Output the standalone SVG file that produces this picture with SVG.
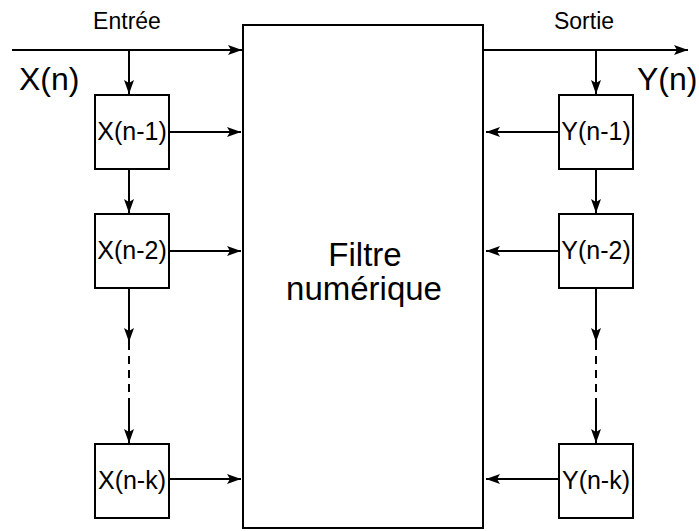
<svg xmlns="http://www.w3.org/2000/svg" width="699" height="531" viewBox="0 0 699 531">
<style>
  .box { fill: #fff; stroke: #000; stroke-width: 2; }
  .ln { fill: none; stroke: #000; stroke-width: 2; }
  .dash { fill: none; stroke: #000; stroke-width: 2; stroke-dasharray: 8 6; }
  text { font-family: "Liberation Sans", Arial, Helvetica, sans-serif; fill: #000; }
  .lbl { font-size: 25px; text-anchor: middle; }
  .big { font-size: 32px; }
  .io { font-size: 23px; text-anchor: middle; }
  .mid { font-size: 33px; text-anchor: middle; }
</style>
<defs>
  <marker id="arr" markerUnits="userSpaceOnUse" markerWidth="15" markerHeight="11" refX="14" refY="5.5" orient="auto">
    <path d="M0,0.5 L14,5.5 L0,10.5 L3,5.5 z" fill="#000"/>
  </marker>
</defs>

<g id="filtre">
  <rect class="box" x="243" y="25" width="240" height="503"/>
  <text class="mid" x="365" y="266">Filtre</text>
  <text class="mid" x="364" y="300">numérique</text>
</g>

<g id="labels">
  <text class="io" x="127" y="29">Entrée</text>
  <text class="io" x="584" y="29">Sortie</text>
  <text class="big" x="19" y="90">X(n)</text>
  <text class="big" x="637" y="90">Y(n)</text>
</g>

<g id="x1"><rect class="box" x="95" y="95" width="74" height="74"/><text class="lbl" x="132" y="140">X(n-1)</text></g>
<g id="x2"><rect class="box" x="95" y="214" width="74" height="74"/><text class="lbl" x="132" y="259">X(n-2)</text></g>
<g id="xk"><rect class="box" x="95" y="444" width="74" height="74"/><text class="lbl" x="132" y="489">X(n-k)</text></g>

<g id="y1"><rect class="box" x="559" y="95" width="74" height="74"/><text class="lbl" x="596" y="140">Y(n-1)</text></g>
<g id="y2"><rect class="box" x="559" y="214" width="74" height="74"/><text class="lbl" x="596" y="259">Y(n-2)</text></g>
<g id="yk"><rect class="box" x="559" y="444" width="74" height="74"/><text class="lbl" x="596" y="489">Y(n-k)</text></g>

<g id="connectors">
  <line class="ln" x1="12" y1="50" x2="242" y2="50" marker-end="url(#arr)"/>
  <line class="ln" x1="483" y1="50" x2="688" y2="50" marker-end="url(#arr)"/>
  <!-- left chain -->
  <line class="ln" x1="129" y1="50" x2="129" y2="94" marker-end="url(#arr)"/>
  <line class="ln" x1="129" y1="169" x2="129" y2="213" marker-end="url(#arr)"/>
  <line class="ln" x1="129" y1="288" x2="129" y2="342" marker-end="url(#arr)"/>
  <line class="dash" x1="129" y1="342" x2="129" y2="398"/>
  <line class="ln" x1="129" y1="398" x2="129" y2="443" marker-end="url(#arr)"/>
  <line class="ln" x1="169" y1="132" x2="241" y2="132" marker-end="url(#arr)"/>
  <line class="ln" x1="169" y1="251" x2="241" y2="251" marker-end="url(#arr)"/>
  <line class="ln" x1="169" y1="479" x2="241" y2="479" marker-end="url(#arr)"/>
  <!-- right chain -->
  <line class="ln" x1="596" y1="50" x2="596" y2="94" marker-end="url(#arr)"/>
  <line class="ln" x1="596" y1="169" x2="596" y2="213" marker-end="url(#arr)"/>
  <line class="ln" x1="596" y1="288" x2="596" y2="342" marker-end="url(#arr)"/>
  <line class="dash" x1="596" y1="342" x2="596" y2="398"/>
  <line class="ln" x1="596" y1="398" x2="596" y2="443" marker-end="url(#arr)"/>
  <line class="ln" x1="559" y1="132" x2="486" y2="132" marker-end="url(#arr)"/>
  <line class="ln" x1="559" y1="251" x2="486" y2="251" marker-end="url(#arr)"/>
  <line class="ln" x1="559" y1="479" x2="486" y2="479" marker-end="url(#arr)"/>
</g>
</svg>
